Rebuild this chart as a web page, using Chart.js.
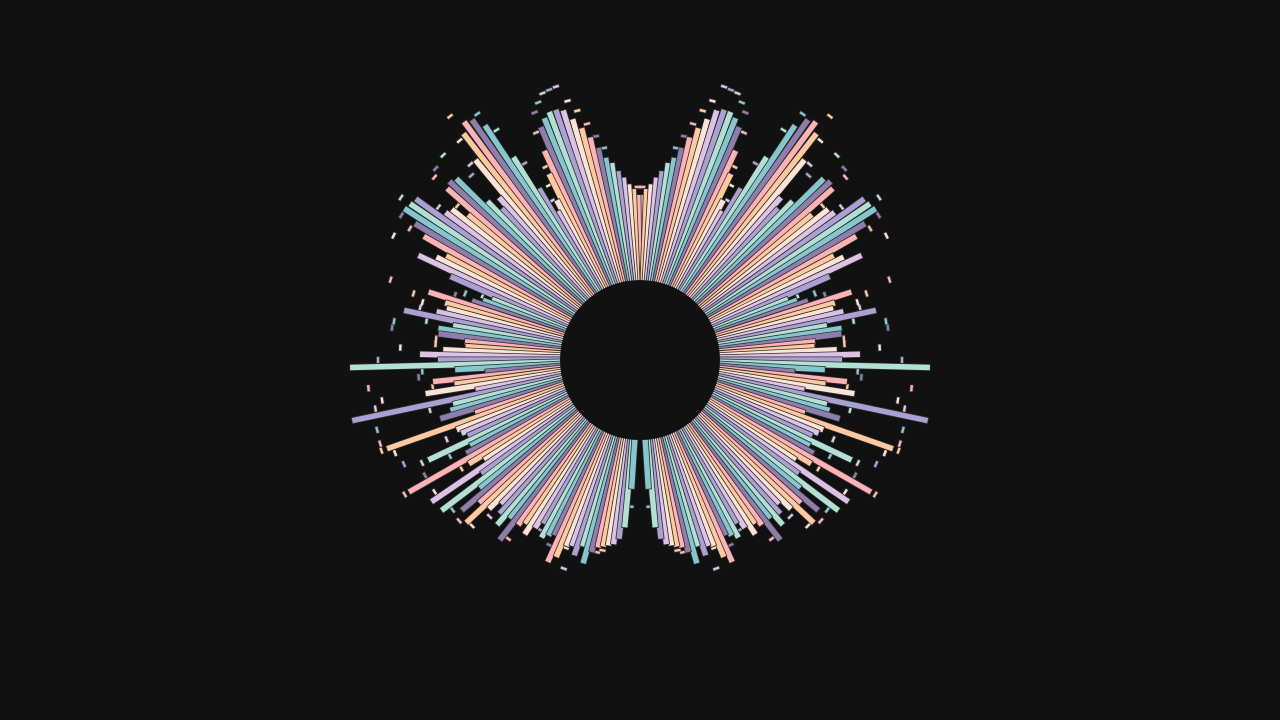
<!DOCTYPE html>
<html>
<head>
<meta charset="utf-8">
<title>Radial burst</title>
<script src="https://cdn.jsdelivr.net/npm/chart.js@4.4.1/dist/chart.umd.min.js"></script>
<style>
  html, body { margin: 0; padding: 0; background: #111111; }
  #wrap { width: 1280px; height: 720px; position: relative; }
</style>
</head>
<body>
<div id="wrap"><canvas id="burst"></canvas></div>
<script>
// bar values for the right half, clockwise from 12 o'clock (the left half mirrors it)
const barValues = [
  165, 171, 176, 183, 190, 199, 205, 216, 228, 239,
  250, 261, 264, 264, 260, 253, 230, 207, 180, 170,
  199, 239, 281, 293, 296, 287, 259, 215, 205, 220,
  258, 261, 258, 225, 241, 244, 276, 278, 280, 263,
  249, 220, 228, 245, 207, 160, 168, 178, 222, 203,
  200, 209, 241, 190, 204, 203, 176, 175, 197, 220,
  202, 290, 185, 155, 208, 187, 217, 167, 294, 192,
  196, 208, 173, 268, 196, 193, 188, 234, 190, 197,
  266, 200, 185, 252, 195, 249, 205, 233, 215, 238,
  212, 200, 208, 218, 205, 228, 205, 200, 209, 198,
  190, 203, 198, 195, 222, 214, 200, 198, 206, 195,
  211, 198, 192, 190, 188, 186, 180, 168, 129, 0,
  0
];

// tick marker values, same order (null = no marker showing)
const markerValues = [
  173, null, null, null, null, null, 215, 228, 242, 257,
  269, 286, 285, 284, 277, 269, 250, 215, 197, 182,
  228, 271, 295, null, null, 309, 284, 259, 250, 284,
  null, 280, 275, 239, null, 253, null, 289, null, 279,
  265, null, 276, null, null, 170, 187, 196, 262, 236,
  225, 226, null, 217, 249, 250, 205, 205, 240, null,
  262, null, 218, 222, 273, 209, 261, 269, null, 216,
  272, null, 273, 274, 262, 209, 258, 241, 213, 244,
  271, 209, 244, null, null, null, 240, null, 242, null,
  236, 217, null, null, null, null, 222, null, null, null,
  197, null, null, 206, null, null, 202, 222, null, null,
  null, null, 197, 194, null, null, null, null, 147, null,
  null
];

const palette = ['#FDB3B5', '#FFC89F', '#FBE3D5', '#DCC3E6', '#ABA0D2', '#B3E0D4', '#85C6CF', '#8E7EAB'];

const HOLE = 80;
const STEP = 180 / barValues.length;
const EDGE = '#2e2e2e';

function polar(r, deg) {
  const a = deg * Math.PI / 180;
  return { x: r * Math.sin(a), y: r * Math.cos(a) };
}

const datasets = [];
function add(ds) { datasets.push(ds); }

// markers go underneath the bars
const markerPts = [], markerRot = [], markerCol = [];
markerValues.forEach((m, k) => {
  if (m == null) return;
  [1, -1].forEach(side => {
    const deg = side * (k + 0.5) * STEP;
    markerPts.push(polar(m, deg));
    markerRot.push(deg);
    markerCol.push(palette[k % palette.length]);
  });
});
add({ data: markerPts, pointStyle: 'line', pointRadius: 3.9, pointBorderWidth: 4.2,
      pointBorderColor: EDGE, pointBackgroundColor: EDGE, pointRotation: markerRot });
add({ data: markerPts, pointStyle: 'line', pointRadius: 3.1, pointBorderWidth: 2.4,
      pointBorderColor: markerCol, pointBackgroundColor: markerCol, pointRotation: markerRot });

// bars: outline then fill, each later bar over the one before
barValues.forEach((v, k) => {
  if (!v) return;
  const col = palette[k % palette.length];
  [1, -1].forEach(side => {
    const deg = side * (k + 0.5) * STEP;
    add({ data: [polar(HOLE - 4, deg), polar(v + 0.8, deg)], showLine: true,
          borderColor: EDGE, borderWidth: 7, pointRadius: 0 });
    add({ data: [polar(HOLE - 4, deg), polar(v, deg)], showLine: true,
          borderColor: col, borderWidth: 5.4, pointRadius: 0 });
  });
});

// first added = drawn first
datasets.forEach((ds, i) => { ds.order = datasets.length - i; });

const holePlugin = {
  id: 'hole',
  afterDatasetsDraw(chart) {
    const { ctx, scales } = chart;
    const cx = scales.x.getPixelForValue(0);
    const cy = scales.y.getPixelForValue(0);
    const r = scales.x.getPixelForValue(HOLE) - cx;
    ctx.save();
    ctx.beginPath();
    ctx.arc(cx, cy, r, 0, Math.PI * 2);
    ctx.fillStyle = '#111111';
    ctx.fill();
    ctx.restore();
  }
};

new Chart(document.getElementById('burst'), {
  type: 'scatter',
  data: { datasets },
  options: {
    responsive: true,
    maintainAspectRatio: false,
    animation: false,
    events: [],
    layout: { padding: 0, autoPadding: false },
    plugins: { legend: { display: false }, tooltip: { enabled: false } },
    scales: {
      x: { type: 'linear', min: -640, max: 640, display: false },
      y: { type: 'linear', min: -360, max: 360, display: false }
    },
    elements: {
      line: { borderCapStyle: 'butt', tension: 0, fill: false },
      point: { hitRadius: 0, hoverRadius: 0 }
    }
  },
  plugins: [holePlugin]
});
</script>
</body>
</html>
